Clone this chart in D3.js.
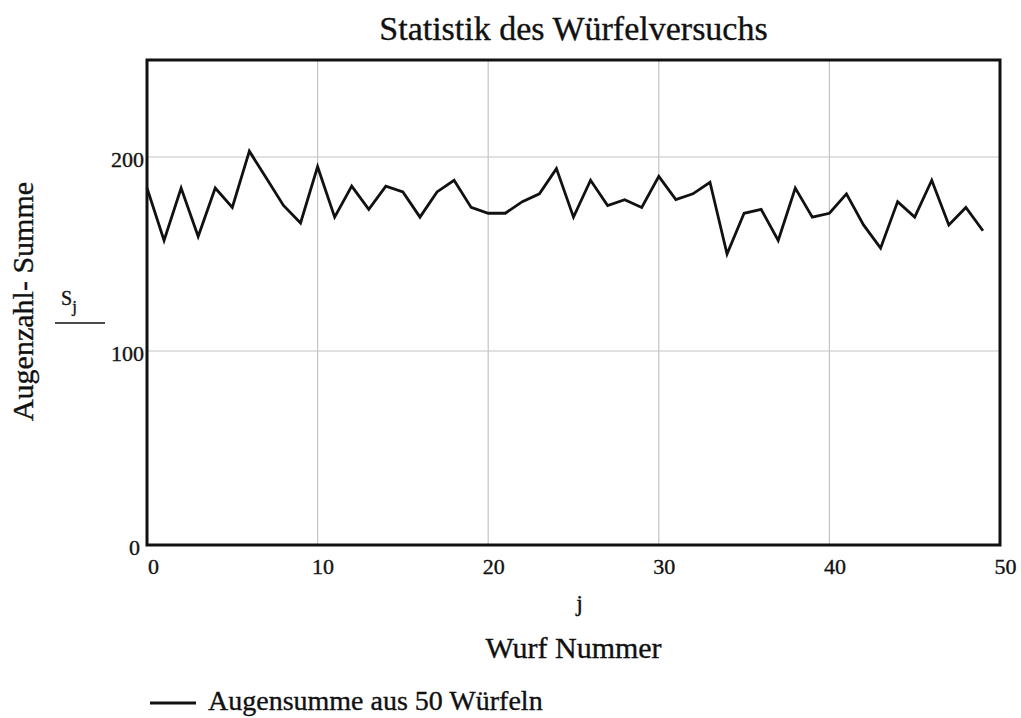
<!DOCTYPE html>
<html>
<head>
<meta charset="utf-8">
<script src="https://cdn.jsdelivr.net/npm/d3@7"></script>
<style>
  body { margin: 0; background: #fff; }
  text { font-family: "Liberation Serif", "DejaVu Serif", serif; fill: #111; stroke: #111; stroke-width: 0.35; }
</style>
</head>
<body>
<div id="chart"></div>
<script>
// Augensumme aus 50 Würfeln, Wurf j = 0..49
const wurfNummer = d3.range(0, 50);
const augenSumme = [184, 157, 184, 159, 184, 174, 203, 189, 175, 166,
    195, 169, 185, 173, 185, 182, 169, 182, 188, 174,
    171, 171, 177, 181, 194, 169, 188, 175, 178, 174,
    190, 178, 181, 187, 150, 171, 173, 157, 184, 169,
    171, 181, 165, 153, 177, 169, 188, 165, 174, 162];
const xTicks = [0, 10, 20, 30, 40, 50];
const yTicks = [0, 100, 200];

const width = 1021, height = 718;
const margin = { top: 60, right: 21, bottom: 173, left: 147 };
const innerW = width - margin.left - margin.right;
const innerH = height - margin.top - margin.bottom;

const svg = d3.select('#chart').append('svg')
    .attr('width', width)
    .attr('height', height);

const x = d3.scaleLinear().domain([0, 50]).range([0, innerW]);
const y = d3.scaleLinear().domain([0, 250]).range([innerH, 0]);

const g = svg.append('g')
    .attr('transform', `translate(${margin.left},${margin.top})`);

// grid
g.append('g')
    .selectAll('line')
    .data(xTicks.filter(d => d > 0 && d < 50))
    .join('line')
    .attr('x1', d => x(d)).attr('x2', d => x(d))
    .attr('y1', 0).attr('y2', innerH)
    .attr('stroke', '#c4c4c4').attr('stroke-width', 1.2);

g.append('g')
    .selectAll('line')
    .data(yTicks.filter(d => d > 0))
    .join('line')
    .attr('x1', 0).attr('x2', innerW)
    .attr('y1', d => y(d)).attr('y2', d => y(d))
    .attr('stroke', '#c4c4c4').attr('stroke-width', 1.2);

// axes (labels only, frame drawn separately)
const xAxis = g.append('g')
    .attr('transform', `translate(0,${innerH})`)
    .call(d3.axisBottom(x).tickValues(xTicks).tickSize(0).tickPadding(13));
xAxis.select('.domain').remove();
xAxis.selectAll('text')
    .attr('font-size', 22)
    .attr('font-family', '"Liberation Serif", serif')
    .attr('fill', '#111')
    .attr('dx', d => d === 0 ? 6 : 5);

const yAxis = g.append('g')
    .call(d3.axisLeft(y).tickValues(yTicks).tickSize(0).tickPadding(3));
yAxis.select('.domain').remove();
yAxis.selectAll('text')
    .attr('font-size', 22)
    .attr('font-family', '"Liberation Serif", serif')
    .attr('fill', '#111')
    .attr('dy', '0.45em')
    .attr('dx', d => d === 0 ? -4 : 0);

// data line
const line = d3.line()
    .x((d, i) => x(wurfNummer[i]))
    .y(d => y(d));

g.append('path')
    .datum(augenSumme)
    .attr('fill', 'none')
    .attr('stroke', '#111')
    .attr('stroke-width', 2.8)
    .attr('stroke-linejoin', 'miter')
    .attr('d', line);

// frame
g.append('rect')
    .attr('x', 0).attr('y', 0)
    .attr('width', innerW).attr('height', innerH)
    .attr('fill', 'none')
    .attr('stroke', '#111')
    .attr('stroke-width', 3);

// title
svg.append('text')
    .attr('x', margin.left + innerW / 2)
    .attr('y', 40)
    .attr('text-anchor', 'middle')
    .attr('font-size', 34)
    .text('Statistik des Würfelversuchs');

// y label
svg.append('text')
    .attr('transform', `translate(33,${margin.top + innerH / 2 - 1}) rotate(-90)`)
    .attr('text-anchor', 'middle')
    .attr('font-size', 30)
    .text('Augenzahl- Summe');

const sj = svg.append('text')
    .attr('x', 61)
    .attr('y', 305)
    .attr('font-size', 20);
sj.append('tspan').text('S');
sj.append('tspan').attr('font-size', 17).attr('dy', 7).text('j');
svg.append('line')
    .attr('x1', 55).attr('x2', 105)
    .attr('y1', 323).attr('y2', 323)
    .attr('stroke', '#111').attr('stroke-width', 1.6);

// x labels
svg.append('text')
    .attr('x', margin.left + innerW / 2 + 6)
    .attr('y', 611)
    .attr('text-anchor', 'middle')
    .attr('font-size', 24)
    .text('j');

svg.append('text')
    .attr('x', margin.left + innerW / 2)
    .attr('y', 658)
    .attr('text-anchor', 'middle')
    .attr('font-size', 30)
    .text('Wurf Nummer');

// legend
svg.append('line')
    .attr('x1', 150).attr('x2', 196)
    .attr('y1', 703).attr('y2', 703)
    .attr('stroke', '#111').attr('stroke-width', 2.8);
svg.append('text')
    .attr('x', 208)
    .attr('y', 710)
    .attr('font-size', 28)
    .text('Augensumme aus 50 Würfeln');
</script>
</body>
</html>
